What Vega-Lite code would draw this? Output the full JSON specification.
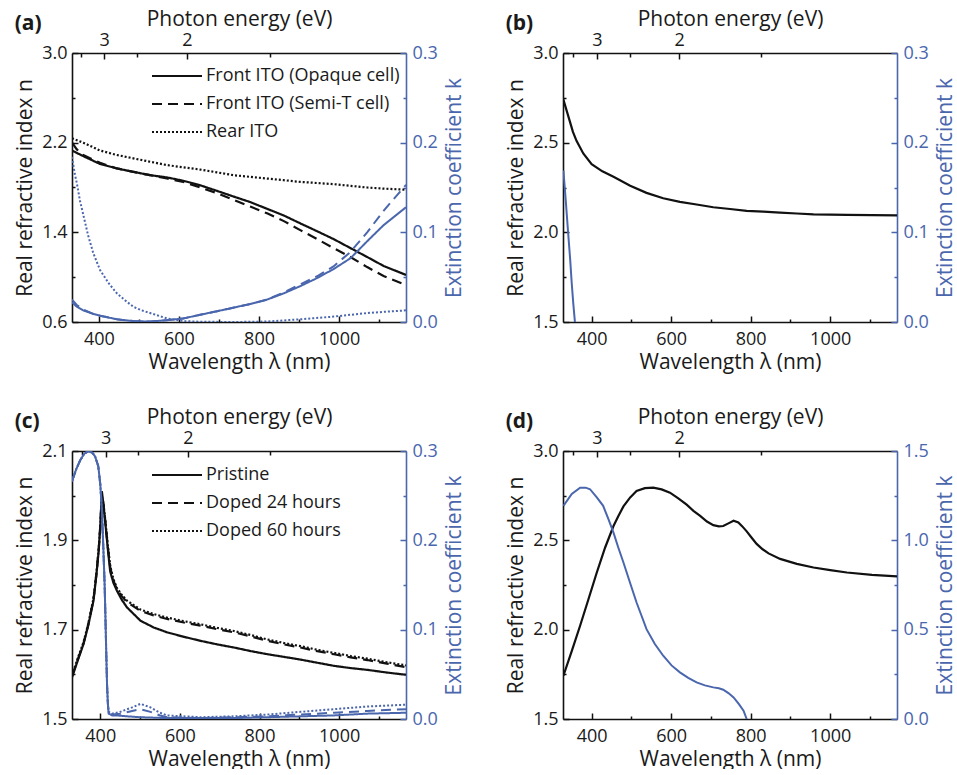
{
"$schema":"https://vega.github.io/schema/vega-lite/v6.json",
"background":"white",
"padding":{"left":14,"top":8,"right":0,"bottom":0},
"config":{
 "font":"Open Sans",
 "view":{"stroke":null},
 "axis":{"grid":false,"domainColor":"#111","domainWidth":1.6,"tickColor":"#111","tickWidth":1.5,"labelFont":"Open Sans","labelFontSize":18,"labelColor":"#1a1a1a","titleFont":"Open Sans","titleFontSize":21,"titleFontWeight":"normal","titleColor":"#1a1a1a"},
 "legend":{"labelFont":"Open Sans","labelFontSize":18,"labelColor":"#1a1a1a","labelLimit":400},
 "title":{"font":"Open Sans","fontSize":21,"fontWeight":"bold","color":"#1a1a1a"}
},
"datasets":{
"a":[
{"s":"Front ITO (Opaque cell)","q":"n","wl":333,"v":2.13},{"s":"Front ITO (Opaque cell)","q":"n","wl":361,"v":2.08},{"s":"Front ITO (Opaque cell)","q":"n","wl":403,"v":2.01},{"s":"Front ITO (Opaque cell)","q":"n","wl":445,"v":1.97},{"s":"Front ITO (Opaque cell)","q":"n","wl":486,"v":1.94},{"s":"Front ITO (Opaque cell)","q":"n","wl":528,"v":1.91},{"s":"Front ITO (Opaque cell)","q":"n","wl":570,"v":1.89},{"s":"Front ITO (Opaque cell)","q":"n","wl":611,"v":1.86},{"s":"Front ITO (Opaque cell)","q":"n","wl":653,"v":1.82},{"s":"Front ITO (Opaque cell)","q":"n","wl":695,"v":1.77},{"s":"Front ITO (Opaque cell)","q":"n","wl":736,"v":1.72},{"s":"Front ITO (Opaque cell)","q":"n","wl":778,"v":1.67},{"s":"Front ITO (Opaque cell)","q":"n","wl":820,"v":1.61},{"s":"Front ITO (Opaque cell)","q":"n","wl":862,"v":1.55},{"s":"Front ITO (Opaque cell)","q":"n","wl":903,"v":1.48},{"s":"Front ITO (Opaque cell)","q":"n","wl":945,"v":1.41},{"s":"Front ITO (Opaque cell)","q":"n","wl":986,"v":1.34},{"s":"Front ITO (Opaque cell)","q":"n","wl":1028,"v":1.26},{"s":"Front ITO (Opaque cell)","q":"n","wl":1070,"v":1.18},{"s":"Front ITO (Opaque cell)","q":"n","wl":1111,"v":1.10},{"s":"Front ITO (Opaque cell)","q":"n","wl":1167,"v":1.02},
{"s":"Front ITO (Semi-T cell)","q":"n","wl":333,"v":2.20},{"s":"Front ITO (Semi-T cell)","q":"n","wl":345,"v":2.14},{"s":"Front ITO (Semi-T cell)","q":"n","wl":361,"v":2.09},{"s":"Front ITO (Semi-T cell)","q":"n","wl":403,"v":2.02},{"s":"Front ITO (Semi-T cell)","q":"n","wl":445,"v":1.97},{"s":"Front ITO (Semi-T cell)","q":"n","wl":486,"v":1.94},{"s":"Front ITO (Semi-T cell)","q":"n","wl":528,"v":1.91},{"s":"Front ITO (Semi-T cell)","q":"n","wl":570,"v":1.88},{"s":"Front ITO (Semi-T cell)","q":"n","wl":611,"v":1.85},{"s":"Front ITO (Semi-T cell)","q":"n","wl":653,"v":1.80},{"s":"Front ITO (Semi-T cell)","q":"n","wl":695,"v":1.75},{"s":"Front ITO (Semi-T cell)","q":"n","wl":736,"v":1.69},{"s":"Front ITO (Semi-T cell)","q":"n","wl":778,"v":1.63},{"s":"Front ITO (Semi-T cell)","q":"n","wl":820,"v":1.57},{"s":"Front ITO (Semi-T cell)","q":"n","wl":862,"v":1.50},{"s":"Front ITO (Semi-T cell)","q":"n","wl":903,"v":1.42},{"s":"Front ITO (Semi-T cell)","q":"n","wl":945,"v":1.34},{"s":"Front ITO (Semi-T cell)","q":"n","wl":986,"v":1.26},{"s":"Front ITO (Semi-T cell)","q":"n","wl":1028,"v":1.18},{"s":"Front ITO (Semi-T cell)","q":"n","wl":1070,"v":1.09},{"s":"Front ITO (Semi-T cell)","q":"n","wl":1111,"v":1.01},{"s":"Front ITO (Semi-T cell)","q":"n","wl":1167,"v":0.93},
{"s":"Rear ITO","q":"n","wl":333,"v":2.24},{"s":"Rear ITO","q":"n","wl":361,"v":2.20},{"s":"Rear ITO","q":"n","wl":403,"v":2.13},{"s":"Rear ITO","q":"n","wl":445,"v":2.09},{"s":"Rear ITO","q":"n","wl":486,"v":2.06},{"s":"Rear ITO","q":"n","wl":528,"v":2.03},{"s":"Rear ITO","q":"n","wl":570,"v":2.00},{"s":"Rear ITO","q":"n","wl":611,"v":1.98},{"s":"Rear ITO","q":"n","wl":653,"v":1.96},{"s":"Rear ITO","q":"n","wl":695,"v":1.935},{"s":"Rear ITO","q":"n","wl":736,"v":1.91},{"s":"Rear ITO","q":"n","wl":778,"v":1.895},{"s":"Rear ITO","q":"n","wl":820,"v":1.88},{"s":"Rear ITO","q":"n","wl":862,"v":1.865},{"s":"Rear ITO","q":"n","wl":903,"v":1.85},{"s":"Rear ITO","q":"n","wl":945,"v":1.84},{"s":"Rear ITO","q":"n","wl":986,"v":1.83},{"s":"Rear ITO","q":"n","wl":1028,"v":1.815},{"s":"Rear ITO","q":"n","wl":1070,"v":1.80},{"s":"Rear ITO","q":"n","wl":1111,"v":1.79},{"s":"Rear ITO","q":"n","wl":1167,"v":1.78},
{"s":"Front ITO (Opaque cell)","q":"k","wl":333,"v":0.022},{"s":"Front ITO (Opaque cell)","q":"k","wl":345,"v":0.017},{"s":"Front ITO (Opaque cell)","q":"k","wl":361,"v":0.013},{"s":"Front ITO (Opaque cell)","q":"k","wl":386,"v":0.009},{"s":"Front ITO (Opaque cell)","q":"k","wl":403,"v":0.007},{"s":"Front ITO (Opaque cell)","q":"k","wl":445,"v":0.003},{"s":"Front ITO (Opaque cell)","q":"k","wl":486,"v":0.001},{"s":"Front ITO (Opaque cell)","q":"k","wl":528,"v":0.0005},{"s":"Front ITO (Opaque cell)","q":"k","wl":570,"v":0.002},{"s":"Front ITO (Opaque cell)","q":"k","wl":611,"v":0.004},{"s":"Front ITO (Opaque cell)","q":"k","wl":653,"v":0.008},{"s":"Front ITO (Opaque cell)","q":"k","wl":695,"v":0.012},{"s":"Front ITO (Opaque cell)","q":"k","wl":736,"v":0.016},{"s":"Front ITO (Opaque cell)","q":"k","wl":778,"v":0.02},{"s":"Front ITO (Opaque cell)","q":"k","wl":820,"v":0.025},{"s":"Front ITO (Opaque cell)","q":"k","wl":862,"v":0.032},{"s":"Front ITO (Opaque cell)","q":"k","wl":903,"v":0.04},{"s":"Front ITO (Opaque cell)","q":"k","wl":945,"v":0.049},{"s":"Front ITO (Opaque cell)","q":"k","wl":986,"v":0.059},{"s":"Front ITO (Opaque cell)","q":"k","wl":1028,"v":0.071},{"s":"Front ITO (Opaque cell)","q":"k","wl":1070,"v":0.09},{"s":"Front ITO (Opaque cell)","q":"k","wl":1111,"v":0.108},{"s":"Front ITO (Opaque cell)","q":"k","wl":1167,"v":0.128},
{"s":"Front ITO (Semi-T cell)","q":"k","wl":333,"v":0.025},{"s":"Front ITO (Semi-T cell)","q":"k","wl":345,"v":0.019},{"s":"Front ITO (Semi-T cell)","q":"k","wl":361,"v":0.014},{"s":"Front ITO (Semi-T cell)","q":"k","wl":386,"v":0.009},{"s":"Front ITO (Semi-T cell)","q":"k","wl":403,"v":0.007},{"s":"Front ITO (Semi-T cell)","q":"k","wl":445,"v":0.003},{"s":"Front ITO (Semi-T cell)","q":"k","wl":486,"v":0.001},{"s":"Front ITO (Semi-T cell)","q":"k","wl":528,"v":0.0005},{"s":"Front ITO (Semi-T cell)","q":"k","wl":570,"v":0.002},{"s":"Front ITO (Semi-T cell)","q":"k","wl":611,"v":0.004},{"s":"Front ITO (Semi-T cell)","q":"k","wl":653,"v":0.008},{"s":"Front ITO (Semi-T cell)","q":"k","wl":695,"v":0.012},{"s":"Front ITO (Semi-T cell)","q":"k","wl":736,"v":0.016},{"s":"Front ITO (Semi-T cell)","q":"k","wl":778,"v":0.02},{"s":"Front ITO (Semi-T cell)","q":"k","wl":820,"v":0.025},{"s":"Front ITO (Semi-T cell)","q":"k","wl":862,"v":0.033},{"s":"Front ITO (Semi-T cell)","q":"k","wl":903,"v":0.042},{"s":"Front ITO (Semi-T cell)","q":"k","wl":945,"v":0.051},{"s":"Front ITO (Semi-T cell)","q":"k","wl":986,"v":0.062},{"s":"Front ITO (Semi-T cell)","q":"k","wl":1028,"v":0.078},{"s":"Front ITO (Semi-T cell)","q":"k","wl":1070,"v":0.1},{"s":"Front ITO (Semi-T cell)","q":"k","wl":1111,"v":0.124},{"s":"Front ITO (Semi-T cell)","q":"k","wl":1167,"v":0.153},
{"s":"Rear ITO","q":"k","wl":333,"v":0.184},{"s":"Rear ITO","q":"k","wl":340,"v":0.165},{"s":"Rear ITO","q":"k","wl":345,"v":0.155},{"s":"Rear ITO","q":"k","wl":353,"v":0.135},{"s":"Rear ITO","q":"k","wl":361,"v":0.12},{"s":"Rear ITO","q":"k","wl":373,"v":0.097},{"s":"Rear ITO","q":"k","wl":386,"v":0.077},{"s":"Rear ITO","q":"k","wl":403,"v":0.058},{"s":"Rear ITO","q":"k","wl":425,"v":0.043},{"s":"Rear ITO","q":"k","wl":445,"v":0.032},{"s":"Rear ITO","q":"k","wl":466,"v":0.024},{"s":"Rear ITO","q":"k","wl":486,"v":0.017},{"s":"Rear ITO","q":"k","wl":507,"v":0.013},{"s":"Rear ITO","q":"k","wl":528,"v":0.01},{"s":"Rear ITO","q":"k","wl":570,"v":0.004},{"s":"Rear ITO","q":"k","wl":611,"v":0.001},{"s":"Rear ITO","q":"k","wl":653,"v":0.0003},{"s":"Rear ITO","q":"k","wl":736,"v":0.0},{"s":"Rear ITO","q":"k","wl":820,"v":0.0005},{"s":"Rear ITO","q":"k","wl":903,"v":0.003},{"s":"Rear ITO","q":"k","wl":986,"v":0.006},{"s":"Rear ITO","q":"k","wl":1070,"v":0.01},{"s":"Rear ITO","q":"k","wl":1167,"v":0.013}
],
"b":[
{"q":"n","wl":329,"v":2.74},{"q":"n","wl":337,"v":2.68},{"q":"n","wl":345,"v":2.62},{"q":"n","wl":353,"v":2.56},{"q":"n","wl":362,"v":2.51},{"q":"n","wl":379,"v":2.44},{"q":"n","wl":400,"v":2.38},{"q":"n","wl":427,"v":2.34},{"q":"n","wl":455,"v":2.31},{"q":"n","wl":497,"v":2.26},{"q":"n","wl":538,"v":2.22},{"q":"n","wl":580,"v":2.19},{"q":"n","wl":622,"v":2.17},{"q":"n","wl":664,"v":2.155},{"q":"n","wl":706,"v":2.14},{"q":"n","wl":748,"v":2.13},{"q":"n","wl":790,"v":2.12},{"q":"n","wl":832,"v":2.115},{"q":"n","wl":874,"v":2.11},{"q":"n","wl":916,"v":2.105},{"q":"n","wl":958,"v":2.10},{"q":"n","wl":1042,"v":2.097},{"q":"n","wl":1168,"v":2.095},
{"q":"k","wl":329,"v":0.169},{"q":"k","wl":335,"v":0.135},{"q":"k","wl":341,"v":0.099},{"q":"k","wl":346,"v":0.07},{"q":"k","wl":350,"v":0.043},{"q":"k","wl":354,"v":0.02},{"q":"k","wl":358,"v":0.0}
],
"c":[
{"s":"Pristine","q":"n","wl":329,"v":1.593},{"s":"Pristine","q":"n","wl":345,"v":1.635},{"s":"Pristine","q":"n","wl":358,"v":1.668},{"s":"Pristine","q":"n","wl":370,"v":1.71},{"s":"Pristine","q":"n","wl":383,"v":1.765},{"s":"Pristine","q":"n","wl":390,"v":1.82},{"s":"Pristine","q":"n","wl":396,"v":1.876},{"s":"Pristine","q":"n","wl":400,"v":1.93},{"s":"Pristine","q":"n","wl":404,"v":2.01},{"s":"Pristine","q":"n","wl":408,"v":1.98},{"s":"Pristine","q":"n","wl":413,"v":1.936},{"s":"Pristine","q":"n","wl":419,"v":1.88},{"s":"Pristine","q":"n","wl":425,"v":1.83},{"s":"Pristine","q":"n","wl":433,"v":1.805},{"s":"Pristine","q":"n","wl":442,"v":1.787},{"s":"Pristine","q":"n","wl":454,"v":1.767},{"s":"Pristine","q":"n","wl":467,"v":1.75},{"s":"Pristine","q":"n","wl":501,"v":1.72},{"s":"Pristine","q":"n","wl":534,"v":1.705},{"s":"Pristine","q":"n","wl":568,"v":1.694},{"s":"Pristine","q":"n","wl":610,"v":1.684},{"s":"Pristine","q":"n","wl":652,"v":1.675},{"s":"Pristine","q":"n","wl":694,"v":1.667},{"s":"Pristine","q":"n","wl":736,"v":1.66},{"s":"Pristine","q":"n","wl":778,"v":1.652},{"s":"Pristine","q":"n","wl":820,"v":1.645},{"s":"Pristine","q":"n","wl":862,"v":1.639},{"s":"Pristine","q":"n","wl":903,"v":1.633},{"s":"Pristine","q":"n","wl":945,"v":1.626},{"s":"Pristine","q":"n","wl":987,"v":1.619},{"s":"Pristine","q":"n","wl":1029,"v":1.614},{"s":"Pristine","q":"n","wl":1071,"v":1.61},{"s":"Pristine","q":"n","wl":1120,"v":1.604},{"s":"Pristine","q":"n","wl":1168,"v":1.599},
{"s":"Doped 24 hours","q":"n","wl":329,"v":1.596},{"s":"Doped 24 hours","q":"n","wl":345,"v":1.637},{"s":"Doped 24 hours","q":"n","wl":358,"v":1.67},{"s":"Doped 24 hours","q":"n","wl":370,"v":1.712},{"s":"Doped 24 hours","q":"n","wl":383,"v":1.768},{"s":"Doped 24 hours","q":"n","wl":390,"v":1.822},{"s":"Doped 24 hours","q":"n","wl":396,"v":1.878},{"s":"Doped 24 hours","q":"n","wl":400,"v":1.93},{"s":"Doped 24 hours","q":"n","wl":404,"v":2.005},{"s":"Doped 24 hours","q":"n","wl":408,"v":1.98},{"s":"Doped 24 hours","q":"n","wl":413,"v":1.94},{"s":"Doped 24 hours","q":"n","wl":419,"v":1.885},{"s":"Doped 24 hours","q":"n","wl":425,"v":1.84},{"s":"Doped 24 hours","q":"n","wl":433,"v":1.81},{"s":"Doped 24 hours","q":"n","wl":442,"v":1.79},{"s":"Doped 24 hours","q":"n","wl":454,"v":1.775},{"s":"Doped 24 hours","q":"n","wl":467,"v":1.762},{"s":"Doped 24 hours","q":"n","wl":501,"v":1.742},{"s":"Doped 24 hours","q":"n","wl":534,"v":1.732},{"s":"Doped 24 hours","q":"n","wl":568,"v":1.724},{"s":"Doped 24 hours","q":"n","wl":610,"v":1.716},{"s":"Doped 24 hours","q":"n","wl":652,"v":1.709},{"s":"Doped 24 hours","q":"n","wl":694,"v":1.701},{"s":"Doped 24 hours","q":"n","wl":736,"v":1.694},{"s":"Doped 24 hours","q":"n","wl":778,"v":1.685},{"s":"Doped 24 hours","q":"n","wl":820,"v":1.675},{"s":"Doped 24 hours","q":"n","wl":862,"v":1.667},{"s":"Doped 24 hours","q":"n","wl":903,"v":1.66},{"s":"Doped 24 hours","q":"n","wl":945,"v":1.652},{"s":"Doped 24 hours","q":"n","wl":987,"v":1.645},{"s":"Doped 24 hours","q":"n","wl":1029,"v":1.638},{"s":"Doped 24 hours","q":"n","wl":1071,"v":1.632},{"s":"Doped 24 hours","q":"n","wl":1120,"v":1.624},{"s":"Doped 24 hours","q":"n","wl":1168,"v":1.616},
{"s":"Doped 60 hours","q":"n","wl":329,"v":1.598},{"s":"Doped 60 hours","q":"n","wl":345,"v":1.64},{"s":"Doped 60 hours","q":"n","wl":358,"v":1.672},{"s":"Doped 60 hours","q":"n","wl":370,"v":1.714},{"s":"Doped 60 hours","q":"n","wl":383,"v":1.77},{"s":"Doped 60 hours","q":"n","wl":390,"v":1.824},{"s":"Doped 60 hours","q":"n","wl":396,"v":1.88},{"s":"Doped 60 hours","q":"n","wl":400,"v":1.932},{"s":"Doped 60 hours","q":"n","wl":404,"v":2.0},{"s":"Doped 60 hours","q":"n","wl":408,"v":1.982},{"s":"Doped 60 hours","q":"n","wl":413,"v":1.942},{"s":"Doped 60 hours","q":"n","wl":419,"v":1.888},{"s":"Doped 60 hours","q":"n","wl":425,"v":1.843},{"s":"Doped 60 hours","q":"n","wl":433,"v":1.813},{"s":"Doped 60 hours","q":"n","wl":442,"v":1.793},{"s":"Doped 60 hours","q":"n","wl":454,"v":1.778},{"s":"Doped 60 hours","q":"n","wl":467,"v":1.765},{"s":"Doped 60 hours","q":"n","wl":501,"v":1.745},{"s":"Doped 60 hours","q":"n","wl":534,"v":1.735},{"s":"Doped 60 hours","q":"n","wl":568,"v":1.727},{"s":"Doped 60 hours","q":"n","wl":610,"v":1.719},{"s":"Doped 60 hours","q":"n","wl":652,"v":1.712},{"s":"Doped 60 hours","q":"n","wl":694,"v":1.704},{"s":"Doped 60 hours","q":"n","wl":736,"v":1.697},{"s":"Doped 60 hours","q":"n","wl":778,"v":1.688},{"s":"Doped 60 hours","q":"n","wl":820,"v":1.678},{"s":"Doped 60 hours","q":"n","wl":862,"v":1.67},{"s":"Doped 60 hours","q":"n","wl":903,"v":1.663},{"s":"Doped 60 hours","q":"n","wl":945,"v":1.655},{"s":"Doped 60 hours","q":"n","wl":987,"v":1.648},{"s":"Doped 60 hours","q":"n","wl":1029,"v":1.641},{"s":"Doped 60 hours","q":"n","wl":1071,"v":1.635},{"s":"Doped 60 hours","q":"n","wl":1120,"v":1.627},{"s":"Doped 60 hours","q":"n","wl":1168,"v":1.62},
{"s":"Pristine","q":"k","wl":329,"v":0.2665},{"s":"Pristine","q":"k","wl":340,"v":0.28},{"s":"Pristine","q":"k","wl":350,"v":0.29},{"s":"Pristine","q":"k","wl":360,"v":0.297},{"s":"Pristine","q":"k","wl":371,"v":0.3},{"s":"Pristine","q":"k","wl":380,"v":0.298},{"s":"Pristine","q":"k","wl":387,"v":0.294},{"s":"Pristine","q":"k","wl":395,"v":0.283},{"s":"Pristine","q":"k","wl":400,"v":0.263},{"s":"Pristine","q":"k","wl":404,"v":0.235},{"s":"Pristine","q":"k","wl":408,"v":0.188},{"s":"Pristine","q":"k","wl":411,"v":0.15},{"s":"Pristine","q":"k","wl":413,"v":0.114},{"s":"Pristine","q":"k","wl":415,"v":0.075},{"s":"Pristine","q":"k","wl":417,"v":0.039},{"s":"Pristine","q":"k","wl":419,"v":0.018},{"s":"Pristine","q":"k","wl":421,"v":0.006},{"s":"Pristine","q":"k","wl":430,"v":0.004},{"s":"Pristine","q":"k","wl":442,"v":0.004},{"s":"Pristine","q":"k","wl":467,"v":0.003},{"s":"Pristine","q":"k","wl":501,"v":0.002},{"s":"Pristine","q":"k","wl":568,"v":0.001},{"s":"Pristine","q":"k","wl":652,"v":0.001},{"s":"Pristine","q":"k","wl":736,"v":0.001},{"s":"Pristine","q":"k","wl":820,"v":0.002},{"s":"Pristine","q":"k","wl":903,"v":0.003},{"s":"Pristine","q":"k","wl":987,"v":0.004},{"s":"Pristine","q":"k","wl":1071,"v":0.006},{"s":"Pristine","q":"k","wl":1168,"v":0.007},
{"s":"Doped 24 hours","q":"k","wl":329,"v":0.266},{"s":"Doped 24 hours","q":"k","wl":340,"v":0.28},{"s":"Doped 24 hours","q":"k","wl":350,"v":0.29},{"s":"Doped 24 hours","q":"k","wl":360,"v":0.297},{"s":"Doped 24 hours","q":"k","wl":371,"v":0.3},{"s":"Doped 24 hours","q":"k","wl":380,"v":0.298},{"s":"Doped 24 hours","q":"k","wl":387,"v":0.294},{"s":"Doped 24 hours","q":"k","wl":395,"v":0.283},{"s":"Doped 24 hours","q":"k","wl":400,"v":0.263},{"s":"Doped 24 hours","q":"k","wl":404,"v":0.235},{"s":"Doped 24 hours","q":"k","wl":408,"v":0.188},{"s":"Doped 24 hours","q":"k","wl":411,"v":0.15},{"s":"Doped 24 hours","q":"k","wl":413,"v":0.114},{"s":"Doped 24 hours","q":"k","wl":415,"v":0.075},{"s":"Doped 24 hours","q":"k","wl":417,"v":0.039},{"s":"Doped 24 hours","q":"k","wl":419,"v":0.018},{"s":"Doped 24 hours","q":"k","wl":421,"v":0.007},{"s":"Doped 24 hours","q":"k","wl":430,"v":0.005},{"s":"Doped 24 hours","q":"k","wl":450,"v":0.006},{"s":"Doped 24 hours","q":"k","wl":480,"v":0.009},{"s":"Doped 24 hours","q":"k","wl":501,"v":0.011},{"s":"Doped 24 hours","q":"k","wl":526,"v":0.008},{"s":"Doped 24 hours","q":"k","wl":550,"v":0.004},{"s":"Doped 24 hours","q":"k","wl":568,"v":0.002},{"s":"Doped 24 hours","q":"k","wl":652,"v":0.001},{"s":"Doped 24 hours","q":"k","wl":736,"v":0.002},{"s":"Doped 24 hours","q":"k","wl":820,"v":0.003},{"s":"Doped 24 hours","q":"k","wl":903,"v":0.005},{"s":"Doped 24 hours","q":"k","wl":987,"v":0.007},{"s":"Doped 24 hours","q":"k","wl":1071,"v":0.009},{"s":"Doped 24 hours","q":"k","wl":1168,"v":0.011},
{"s":"Doped 60 hours","q":"k","wl":329,"v":0.266},{"s":"Doped 60 hours","q":"k","wl":340,"v":0.28},{"s":"Doped 60 hours","q":"k","wl":350,"v":0.29},{"s":"Doped 60 hours","q":"k","wl":360,"v":0.297},{"s":"Doped 60 hours","q":"k","wl":371,"v":0.3},{"s":"Doped 60 hours","q":"k","wl":380,"v":0.298},{"s":"Doped 60 hours","q":"k","wl":387,"v":0.294},{"s":"Doped 60 hours","q":"k","wl":395,"v":0.283},{"s":"Doped 60 hours","q":"k","wl":400,"v":0.263},{"s":"Doped 60 hours","q":"k","wl":404,"v":0.235},{"s":"Doped 60 hours","q":"k","wl":408,"v":0.188},{"s":"Doped 60 hours","q":"k","wl":411,"v":0.15},{"s":"Doped 60 hours","q":"k","wl":413,"v":0.114},{"s":"Doped 60 hours","q":"k","wl":415,"v":0.075},{"s":"Doped 60 hours","q":"k","wl":417,"v":0.039},{"s":"Doped 60 hours","q":"k","wl":419,"v":0.018},{"s":"Doped 60 hours","q":"k","wl":421,"v":0.008},{"s":"Doped 60 hours","q":"k","wl":430,"v":0.006},{"s":"Doped 60 hours","q":"k","wl":450,"v":0.008},{"s":"Doped 60 hours","q":"k","wl":480,"v":0.013},{"s":"Doped 60 hours","q":"k","wl":501,"v":0.017},{"s":"Doped 60 hours","q":"k","wl":526,"v":0.013},{"s":"Doped 60 hours","q":"k","wl":550,"v":0.007},{"s":"Doped 60 hours","q":"k","wl":568,"v":0.004},{"s":"Doped 60 hours","q":"k","wl":652,"v":0.002},{"s":"Doped 60 hours","q":"k","wl":736,"v":0.003},{"s":"Doped 60 hours","q":"k","wl":820,"v":0.005},{"s":"Doped 60 hours","q":"k","wl":903,"v":0.008},{"s":"Doped 60 hours","q":"k","wl":987,"v":0.011},{"s":"Doped 60 hours","q":"k","wl":1071,"v":0.014},{"s":"Doped 60 hours","q":"k","wl":1168,"v":0.016}
],
"d":[
{"q":"n","wl":329,"v":1.742},{"q":"n","wl":350,"v":1.88},{"q":"n","wl":371,"v":2.022},{"q":"n","wl":392,"v":2.17},{"q":"n","wl":413,"v":2.32},{"q":"n","wl":434,"v":2.46},{"q":"n","wl":455,"v":2.58},{"q":"n","wl":467,"v":2.635},{"q":"n","wl":480,"v":2.69},{"q":"n","wl":497,"v":2.74},{"q":"n","wl":513,"v":2.776},{"q":"n","wl":534,"v":2.792},{"q":"n","wl":555,"v":2.795},{"q":"n","wl":576,"v":2.785},{"q":"n","wl":597,"v":2.767},{"q":"n","wl":618,"v":2.735},{"q":"n","wl":639,"v":2.70},{"q":"n","wl":656,"v":2.665},{"q":"n","wl":673,"v":2.637},{"q":"n","wl":690,"v":2.605},{"q":"n","wl":706,"v":2.585},{"q":"n","wl":720,"v":2.578},{"q":"n","wl":731,"v":2.58},{"q":"n","wl":744,"v":2.595},{"q":"n","wl":757,"v":2.61},{"q":"n","wl":769,"v":2.60},{"q":"n","wl":779,"v":2.578},{"q":"n","wl":790,"v":2.55},{"q":"n","wl":803,"v":2.513},{"q":"n","wl":815,"v":2.48},{"q":"n","wl":830,"v":2.45},{"q":"n","wl":845,"v":2.427},{"q":"n","wl":874,"v":2.396},{"q":"n","wl":916,"v":2.368},{"q":"n","wl":958,"v":2.348},{"q":"n","wl":1000,"v":2.333},{"q":"n","wl":1042,"v":2.32},{"q":"n","wl":1105,"v":2.307},{"q":"n","wl":1168,"v":2.298},
{"q":"k","wl":329,"v":1.193},{"q":"k","wl":350,"v":1.26},{"q":"k","wl":371,"v":1.295},{"q":"k","wl":385,"v":1.295},{"q":"k","wl":396,"v":1.286},{"q":"k","wl":413,"v":1.24},{"q":"k","wl":429,"v":1.193},{"q":"k","wl":442,"v":1.12},{"q":"k","wl":455,"v":1.043},{"q":"k","wl":467,"v":0.96},{"q":"k","wl":480,"v":0.876},{"q":"k","wl":497,"v":0.76},{"q":"k","wl":513,"v":0.652},{"q":"k","wl":526,"v":0.575},{"q":"k","wl":538,"v":0.503},{"q":"k","wl":559,"v":0.42},{"q":"k","wl":580,"v":0.354},{"q":"k","wl":601,"v":0.30},{"q":"k","wl":622,"v":0.261},{"q":"k","wl":643,"v":0.23},{"q":"k","wl":664,"v":0.205},{"q":"k","wl":685,"v":0.188},{"q":"k","wl":706,"v":0.177},{"q":"k","wl":720,"v":0.172},{"q":"k","wl":731,"v":0.164},{"q":"k","wl":744,"v":0.145},{"q":"k","wl":757,"v":0.121},{"q":"k","wl":770,"v":0.085},{"q":"k","wl":782,"v":0.047},{"q":"k","wl":790,"v":0.0}
]
},
"spacing":34,
"resolve":{"scale":{"strokeDash":"independent"},"legend":{"strokeDash":"independent"}},
"vconcat":[
{"hconcat":[
{"width":334,"height":269,"data":{"name":"a"},
 "title":{"text":"(a)","anchor":"start","frame":"bounds","offset":-26},
 "layer":[
  {"transform":[{"filter":"datum.q=='n'"}],"mark":{"type":"line","color":"#111","strokeWidth":2.2,"clip":true},
   "encoding":{
    "x":{"field":"wl","type":"quantitative","scale":{"domain":[333,1167],"nice":false,"zero":false},"axis":{"orient":"bottom","title":"Wavelength λ (nm)","values":[400,500,600,700,800,900,1000,1100],"format":"d","labelExpr":"datum.value % 200 == 0 ? datum.label : ''","tickSize":{"condition":{"test":"datum.value % 200 == 0","value":-6},"value":-3},"labelPadding":14,"titlePadding":3}},
    "y":{"field":"v","type":"quantitative","scale":{"domain":[0.6,3.0],"nice":false,"zero":false},"axis":{"orient":"left","title":"Real refractive index n","values":[0.6,1.0,1.4,1.8,2.2,2.6,3.0],"labelExpr":"abs((datum.value-0.6)/0.8-round((datum.value-0.6)/0.8))<0.01 ? format(datum.value,'.1f') : ''","tickSize":{"condition":{"test":"abs((datum.value-0.6)/0.8-round((datum.value-0.6)/0.8))<0.01","value":-6},"value":-3},"labelPadding":11,"titlePadding":6}},
    "strokeDash":{"field":"s","type":"nominal","scale":{"domain":["Front ITO (Opaque cell)","Front ITO (Semi-T cell)","Rear ITO"],"range":[[1,0],[10,6],[2,2]]},"legend":{"orient":"none","legendX":96,"legendY":14,"title":null,"symbolType":"M-5,0H5","symbolSize":100,"symbolStrokeWidth":2.2,"symbolStrokeColor":"#111","labelOffset":20,"rowPadding":10}}
   }},
  {"transform":[{"filter":"datum.q=='k'"}],"mark":{"type":"line","color":"#4a66ad","strokeWidth":2,"clip":true},
   "encoding":{
    "x":{"field":"wl","type":"quantitative","scale":{"domain":[333,1167],"nice":false,"zero":false},"axis":null},
    "y":{"field":"v","type":"quantitative","scale":{"domain":[0,0.3],"nice":false,"zero":false},"axis":{"orient":"right","title":"Extinction coefficient k","values":[0,0.05,0.1,0.15,0.2,0.25,0.3],"labelExpr":"abs(datum.value*10-round(datum.value*10))<0.01 ? format(datum.value,'.1f') : ''","tickSize":{"condition":{"test":"abs(datum.value*10-round(datum.value*10))<0.01","value":-6},"value":-3},"labelPadding":12,"titlePadding":6,"titleAngle":270,"titleBaseline":"top","domainColor":"#4a66ad","tickColor":"#4a66ad","labelColor":"#4a66ad","titleColor":"#4a66ad"}},
    "strokeDash":{"field":"s","type":"nominal","scale":{"domain":["Front ITO (Opaque cell)","Front ITO (Semi-T cell)","Rear ITO"],"range":[[1,0],[10,6],[2,2]]},"legend":{"orient":"none","legendX":96,"legendY":14,"title":null,"symbolType":"M-5,0H5","symbolSize":100,"symbolStrokeWidth":2.2,"symbolStrokeColor":"#111","labelOffset":20,"rowPadding":10}}
   }},
  {"transform":[{"filter":"datum.q=='n'"}],"mark":{"type":"line","opacity":0},
   "encoding":{
    "x":{"field":"wl","type":"quantitative","scale":{"domain":[333,1167],"nice":false,"zero":false},"axis":{"orient":"top","title":"Photon energy (eV)","values":[354.29,413.33,496,620,826.67],"labelExpr":"abs(datum.value-413.33)<1 ? '3' : (abs(datum.value-620)<1 ? '2' : '')","tickSize":{"condition":{"test":"abs(datum.value-413.33)<1 || abs(datum.value-620)<1","value":-6},"value":-4},"labelPadding":10,"titlePadding":2}},
    "y":{"field":"v","type":"quantitative","scale":{"domain":[0.6,3.0],"nice":false,"zero":false},"axis":null},
    "detail":{"field":"s"}
   }}
 ],
 "resolve":{"scale":{"x":"independent","y":"independent"}}
},
{"width":334,"height":269,"data":{"name":"b"},
 "title":{"text":"(b)","anchor":"start","frame":"bounds","offset":-26},
 "layer":[
  {"transform":[{"filter":"datum.q=='n'"}],"mark":{"type":"line","color":"#111","strokeWidth":2.2,"clip":true},
   "encoding":{
    "x":{"field":"wl","type":"quantitative","scale":{"domain":[328,1168],"nice":false,"zero":false},"axis":{"orient":"bottom","title":"Wavelength λ (nm)","values":[400,500,600,700,800,900,1000,1100],"format":"d","labelExpr":"datum.value % 200 == 0 ? datum.label : ''","tickSize":{"condition":{"test":"datum.value % 200 == 0","value":-6},"value":-3},"labelPadding":14,"titlePadding":3}},
    "y":{"field":"v","type":"quantitative","scale":{"domain":[1.5,3.0],"nice":false,"zero":false},"axis":{"orient":"left","title":"Real refractive index n","values":[1.5,1.75,2.0,2.25,2.5,2.75,3.0],"labelExpr":"abs(datum.value*2-round(datum.value*2))<0.01 ? format(datum.value,'.1f') : ''","tickSize":{"condition":{"test":"abs(datum.value*2-round(datum.value*2))<0.01","value":-6},"value":-3},"labelPadding":11,"titlePadding":6}}
   }},
  {"transform":[{"filter":"datum.q=='k'"}],"mark":{"type":"line","color":"#4a66ad","strokeWidth":2,"clip":true},
   "encoding":{
    "x":{"field":"wl","type":"quantitative","scale":{"domain":[328,1168],"nice":false,"zero":false},"axis":null},
    "y":{"field":"v","type":"quantitative","scale":{"domain":[0,0.3],"nice":false,"zero":false},"axis":{"orient":"right","title":"Extinction coefficient k","values":[0,0.05,0.1,0.15,0.2,0.25,0.3],"labelExpr":"abs(datum.value*10-round(datum.value*10))<0.01 ? format(datum.value,'.1f') : ''","tickSize":{"condition":{"test":"abs(datum.value*10-round(datum.value*10))<0.01","value":-6},"value":-3},"labelPadding":12,"titlePadding":6,"titleAngle":270,"titleBaseline":"top","domainColor":"#4a66ad","tickColor":"#4a66ad","labelColor":"#4a66ad","titleColor":"#4a66ad"}}
   }},
  {"transform":[{"filter":"datum.q=='n'"}],"mark":{"type":"line","opacity":0},
   "encoding":{
    "x":{"field":"wl","type":"quantitative","scale":{"domain":[328,1168],"nice":false,"zero":false},"axis":{"orient":"top","title":"Photon energy (eV)","values":[354.29,413.33,496,620,826.67],"labelExpr":"abs(datum.value-413.33)<1 ? '3' : (abs(datum.value-620)<1 ? '2' : '')","tickSize":{"condition":{"test":"abs(datum.value-413.33)<1 || abs(datum.value-620)<1","value":-6},"value":-4},"labelPadding":10,"titlePadding":2}},
    "y":{"field":"v","type":"quantitative","scale":{"domain":[1.5,3.0],"nice":false,"zero":false},"axis":null}
   }}
 ],
 "resolve":{"scale":{"x":"independent","y":"independent"}}
}
],"spacing":40},
{"hconcat":[
{"width":334,"height":268,"data":{"name":"c"},
 "title":{"text":"(c)","anchor":"start","frame":"bounds","offset":-26},
 "layer":[
  {"transform":[{"filter":"datum.q=='n'"}],"mark":{"type":"line","color":"#111","strokeWidth":2.2,"clip":true},
   "encoding":{
    "x":{"field":"wl","type":"quantitative","scale":{"domain":[329,1168],"nice":false,"zero":false},"axis":{"orient":"bottom","title":"Wavelength λ (nm)","values":[400,500,600,700,800,900,1000,1100],"format":"d","labelExpr":"datum.value % 200 == 0 ? datum.label : ''","tickSize":{"condition":{"test":"datum.value % 200 == 0","value":-6},"value":-3},"labelPadding":14,"titlePadding":3}},
    "y":{"field":"v","type":"quantitative","scale":{"domain":[1.5,2.1],"nice":false,"zero":false},"axis":{"orient":"left","title":"Real refractive index n","values":[1.5,1.6,1.7,1.8,1.9,2.0,2.1],"labelExpr":"abs((datum.value-1.5)/0.2-round((datum.value-1.5)/0.2))<0.01 ? format(datum.value,'.1f') : ''","tickSize":{"condition":{"test":"abs((datum.value-1.5)/0.2-round((datum.value-1.5)/0.2))<0.01","value":-6},"value":-3},"labelPadding":11,"titlePadding":6}},
    "strokeDash":{"field":"s","type":"nominal","scale":{"domain":["Pristine","Doped 24 hours","Doped 60 hours"],"range":[[1,0],[10,6],[2,2]]},"legend":{"orient":"none","legendX":96,"legendY":15,"title":null,"symbolType":"M-5,0H5","symbolSize":100,"symbolStrokeWidth":2.2,"symbolStrokeColor":"#111","labelOffset":20,"rowPadding":10}}
   }},
  {"transform":[{"filter":"datum.q=='k'"}],"mark":{"type":"line","color":"#4a66ad","strokeWidth":2,"clip":true},
   "encoding":{
    "x":{"field":"wl","type":"quantitative","scale":{"domain":[329,1168],"nice":false,"zero":false},"axis":null},
    "y":{"field":"v","type":"quantitative","scale":{"domain":[0,0.3],"nice":false,"zero":false},"axis":{"orient":"right","title":"Extinction coefficient k","values":[0,0.05,0.1,0.15,0.2,0.25,0.3],"labelExpr":"abs(datum.value*10-round(datum.value*10))<0.01 ? format(datum.value,'.1f') : ''","tickSize":{"condition":{"test":"abs(datum.value*10-round(datum.value*10))<0.01","value":-6},"value":-3},"labelPadding":12,"titlePadding":6,"titleAngle":270,"titleBaseline":"top","domainColor":"#4a66ad","tickColor":"#4a66ad","labelColor":"#4a66ad","titleColor":"#4a66ad"}},
    "strokeDash":{"field":"s","type":"nominal","scale":{"domain":["Pristine","Doped 24 hours","Doped 60 hours"],"range":[[1,0],[10,6],[2,2]]},"legend":{"orient":"none","legendX":96,"legendY":15,"title":null,"symbolType":"M-5,0H5","symbolSize":100,"symbolStrokeWidth":2.2,"symbolStrokeColor":"#111","labelOffset":20,"rowPadding":10}}
   }},
  {"transform":[{"filter":"datum.q=='n'"}],"mark":{"type":"line","opacity":0},
   "encoding":{
    "x":{"field":"wl","type":"quantitative","scale":{"domain":[329,1168],"nice":false,"zero":false},"axis":{"orient":"top","title":"Photon energy (eV)","values":[354.29,413.33,496,620,826.67],"labelExpr":"abs(datum.value-413.33)<1 ? '3' : (abs(datum.value-620)<1 ? '2' : '')","tickSize":{"condition":{"test":"abs(datum.value-413.33)<1 || abs(datum.value-620)<1","value":-6},"value":-4},"labelPadding":10,"titlePadding":2}},
    "y":{"field":"v","type":"quantitative","scale":{"domain":[1.5,2.1],"nice":false,"zero":false},"axis":null},
    "detail":{"field":"s"}
   }}
 ],
 "resolve":{"scale":{"x":"independent","y":"independent"}}
},
{"width":334,"height":268,"data":{"name":"d"},
 "title":{"text":"(d)","anchor":"start","frame":"bounds","offset":-26},
 "layer":[
  {"transform":[{"filter":"datum.q=='n'"}],"mark":{"type":"line","color":"#111","strokeWidth":2.2,"clip":true},
   "encoding":{
    "x":{"field":"wl","type":"quantitative","scale":{"domain":[328,1168],"nice":false,"zero":false},"axis":{"orient":"bottom","title":"Wavelength λ (nm)","values":[400,500,600,700,800,900,1000,1100],"format":"d","labelExpr":"datum.value % 200 == 0 ? datum.label : ''","tickSize":{"condition":{"test":"datum.value % 200 == 0","value":-6},"value":-3},"labelPadding":14,"titlePadding":3}},
    "y":{"field":"v","type":"quantitative","scale":{"domain":[1.5,3.0],"nice":false,"zero":false},"axis":{"orient":"left","title":"Real refractive index n","values":[1.5,1.75,2.0,2.25,2.5,2.75,3.0],"labelExpr":"abs(datum.value*2-round(datum.value*2))<0.01 ? format(datum.value,'.1f') : ''","tickSize":{"condition":{"test":"abs(datum.value*2-round(datum.value*2))<0.01","value":-6},"value":-3},"labelPadding":11,"titlePadding":6}}
   }},
  {"transform":[{"filter":"datum.q=='k'"}],"mark":{"type":"line","color":"#4a66ad","strokeWidth":2,"clip":true},
   "encoding":{
    "x":{"field":"wl","type":"quantitative","scale":{"domain":[328,1168],"nice":false,"zero":false},"axis":null},
    "y":{"field":"v","type":"quantitative","scale":{"domain":[0,1.5],"nice":false,"zero":false},"axis":{"orient":"right","title":"Extinction coefficient k","values":[0,0.25,0.5,0.75,1.0,1.25,1.5],"labelExpr":"abs(datum.value*2-round(datum.value*2))<0.01 ? format(datum.value,'.1f') : ''","tickSize":{"condition":{"test":"abs(datum.value*2-round(datum.value*2))<0.01","value":-6},"value":-3},"labelPadding":12,"titlePadding":6,"titleAngle":270,"titleBaseline":"top","domainColor":"#4a66ad","tickColor":"#4a66ad","labelColor":"#4a66ad","titleColor":"#4a66ad"}}
   }},
  {"transform":[{"filter":"datum.q=='n'"}],"mark":{"type":"line","opacity":0},
   "encoding":{
    "x":{"field":"wl","type":"quantitative","scale":{"domain":[328,1168],"nice":false,"zero":false},"axis":{"orient":"top","title":"Photon energy (eV)","values":[354.29,413.33,496,620,826.67],"labelExpr":"abs(datum.value-413.33)<1 ? '3' : (abs(datum.value-620)<1 ? '2' : '')","tickSize":{"condition":{"test":"abs(datum.value-413.33)<1 || abs(datum.value-620)<1","value":-6},"value":-4},"labelPadding":10,"titlePadding":2}},
    "y":{"field":"v","type":"quantitative","scale":{"domain":[1.5,3.0],"nice":false,"zero":false},"axis":null}
   }}
 ],
 "resolve":{"scale":{"x":"independent","y":"independent"}}
}
],"spacing":40}
]
}
